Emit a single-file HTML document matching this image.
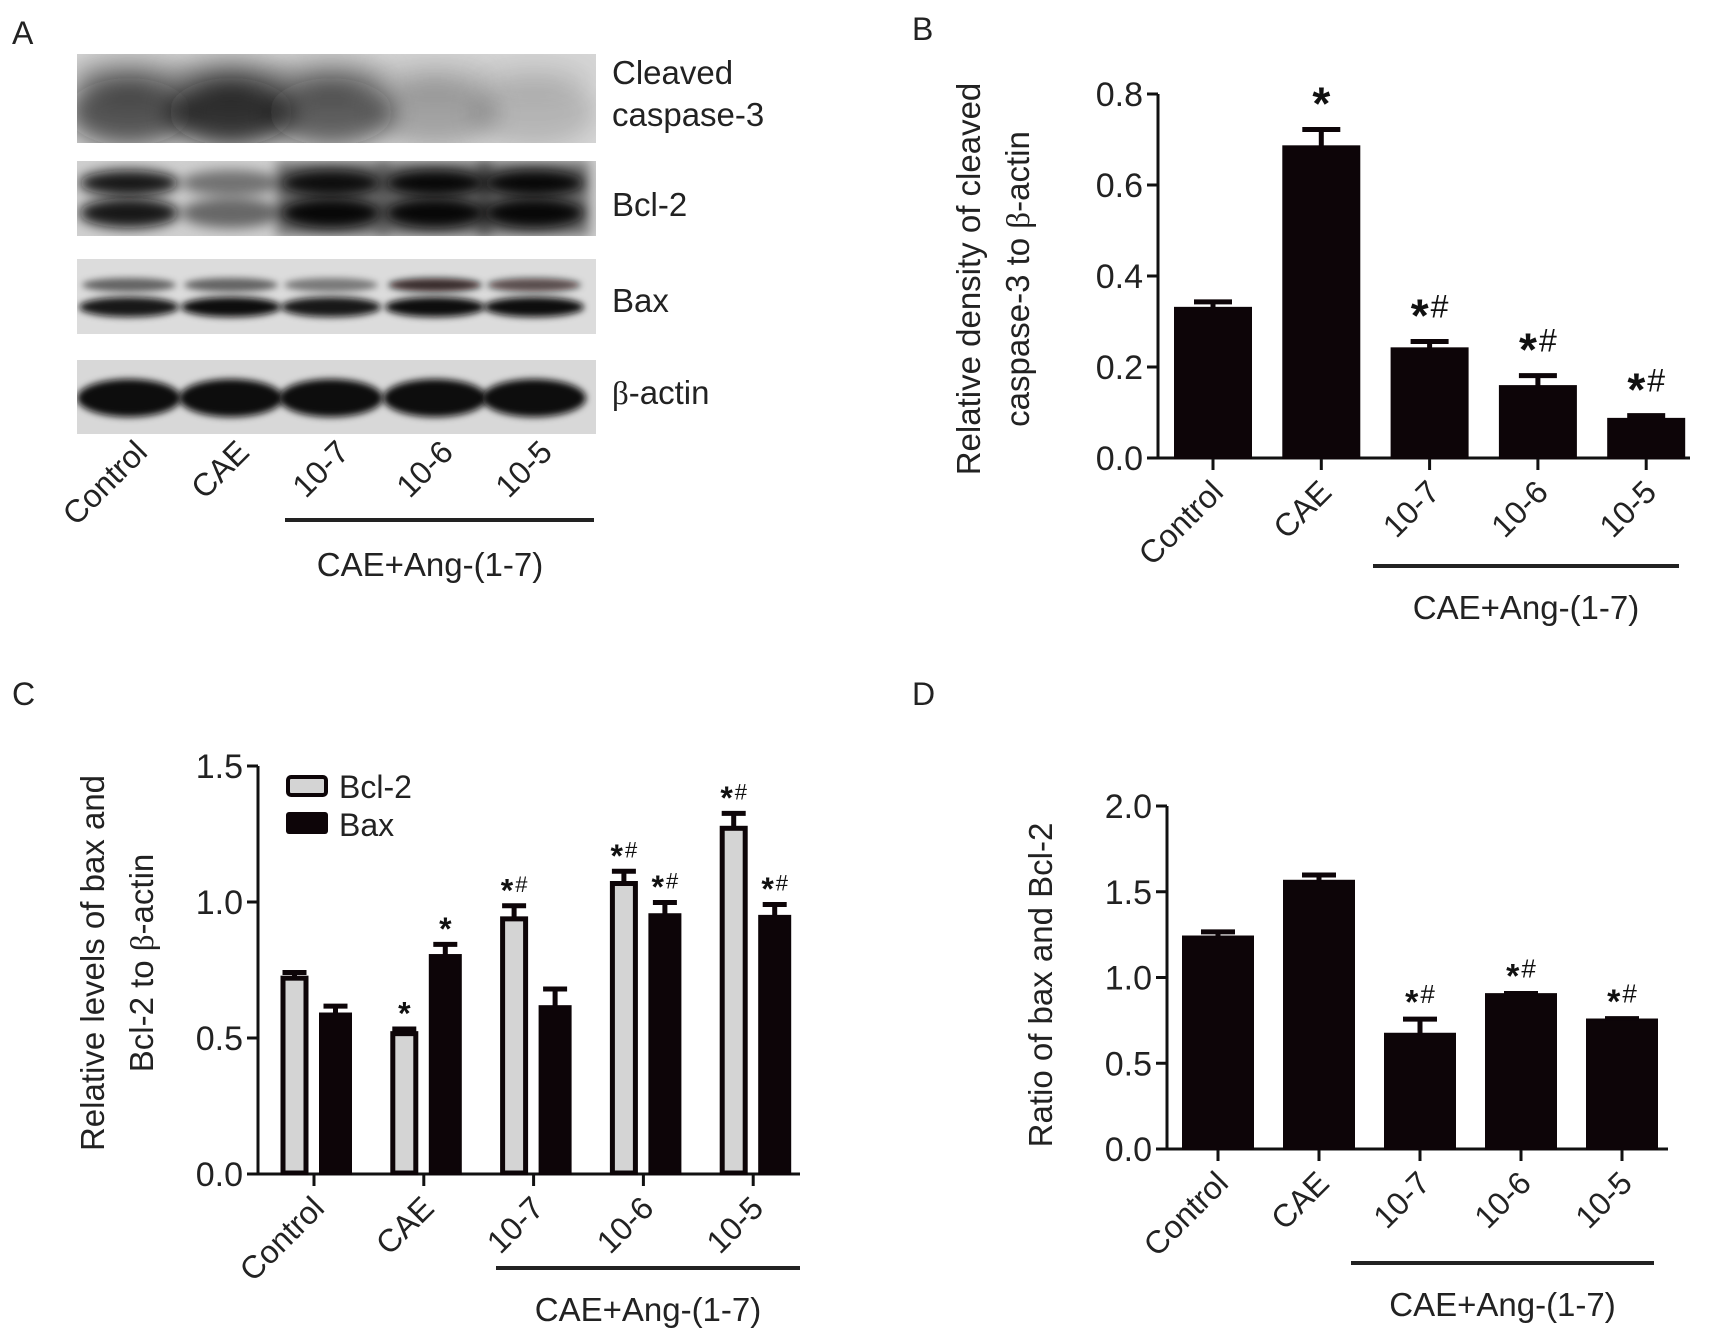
<!DOCTYPE html>
<html><head><meta charset="utf-8"><style>
html,body{margin:0;padding:0;background:#fff;}
svg{display:block;font-family:"Liberation Sans",Arial,sans-serif;}
</style></head><body>
<svg id="fig" width="1715" height="1341" viewBox="0 0 1715 1341" xmlns="http://www.w3.org/2000/svg">
<defs>
<filter id="blur6" x="-30%" y="-80%" width="160%" height="260%"><feGaussianBlur stdDeviation="6"/></filter>
<filter id="blur12" x="-30%" y="-80%" width="160%" height="260%"><feGaussianBlur stdDeviation="12"/></filter>
<filter id="blur3" x="-30%" y="-80%" width="160%" height="260%"><feGaussianBlur stdDeviation="3.5"/></filter>
<clipPath id="cp1"><rect x="77" y="54" width="519" height="89"/></clipPath>
<clipPath id="cp2"><rect x="77" y="161" width="519" height="75"/></clipPath>
<clipPath id="cp3"><rect x="77" y="259" width="519" height="75"/></clipPath>
<clipPath id="cp4"><rect x="77" y="360" width="519" height="74"/></clipPath>
</defs>
<g id="panelA"></g>
<g id="panelB"></g>
<g id="panelC"></g>
<g id="panelD"></g>
</svg>
<script>
// ---- data ----
const groups = ["Control","CAE","10-7","10-6","10-5"];
const groupLabel = "CAE+Ang-(1-7)";
// Panel B
const bValues = [0.330, 0.685, 0.241, 0.158, 0.086];
const bErrors = [0.013, 0.037, 0.015, 0.023, 0.007];
const bMarks = ["", "*", "*#", "*#", "*#"];
const bTicks = [0.0, 0.2, 0.4, 0.6, 0.8];
// Panel C
const cBcl2 = [0.72, 0.516, 0.938, 1.068, 1.271];
const cBcl2Err = [0.021, 0.017, 0.048, 0.045, 0.055];
const cBax = [0.59, 0.805, 0.617, 0.955, 0.949];
const cBaxErr = [0.027, 0.039, 0.063, 0.043, 0.042];
const cBcl2Marks = ["", "*", "*#", "*#", "*#"];
const cBaxMarks = ["", "*", "", "*#", "*#"];
const cTicks = [0.0, 0.5, 1.0, 1.5];
// Panel D
const dValues = [1.239, 1.564, 0.672, 0.903, 0.755];
const dErrors = [0.027, 0.034, 0.085, 0.004, 0.005];
const dMarks = ["", "", "*#", "*#", "*#"];
const dTicks = [0.0, 0.5, 1.0, 1.5, 2.0];
// Panel A band intensities (0..1)
const caspBand = [0.78, 0.97, 0.72, 0.28, 0.18];
const bcl2Upper = [0.95, 0.45, 0.95, 1.0, 1.0];
const bcl2Lower = [0.95, 0.5, 1.0, 1.0, 1.0];
const baxUpper = [0.55, 0.55, 0.45, 0.8, 0.65];
const baxLower = [0.95, 1.0, 0.95, 1.0, 1.0];
const actinBand = [1.0, 1.0, 1.0, 1.0, 1.0];

const NS = "http://www.w3.org/2000/svg";
function mk(parent, tag, attrs, text){
  const e = document.createElementNS(NS, tag);
  for (const k in attrs) e.setAttribute(k, attrs[k]);
  if (text !== undefined) e.textContent = text;
  parent.appendChild(e);
  return e;
}
function scaleY(y0, y1, vmax){ return v => y0 - (y0 - y1) * v / vmax; }

function axes(g, o){
  const ax = mk(g,'line',{x1:o.ax,y1:o.yTop,x2:o.ax,y2:o.y0,stroke:'#111','stroke-width':3});
  
  
  const bx = mk(g,'line',{x1:o.ax-1,y1:o.y0,x2:o.axEnd,y2:o.y0,stroke:'#111','stroke-width':3});
  
  
  o.ticks.forEach(t=>{
    const y=o.sy(t);
    const tl = mk(g,'line',{x1:o.ax-11,y1:y,x2:o.ax,y2:y,stroke:'#111','stroke-width':3});
    
    
    const tx = mk(g,'text',{x:o.ax-15,y:y+12,'text-anchor':'end','font-size':34,fill:'#222'}, t.toFixed(1));
    
    
  });
  o.centers.forEach((cx,i)=>{
    const tk = mk(g,'line',{x1:cx,y1:o.y0,x2:cx,y2:o.y0+12,stroke:'#111','stroke-width':3});
    
    
    const lb = mk(g,'text',{transform:`translate(${cx+12},${o.y0+36}) rotate(-45)`,'text-anchor':'end','font-size':32,fill:'#222'}, groups[i]);
    
    
  });
  const gl = mk(g,'line',{x1:o.gx1,y1:o.gy,x2:o.gx2,y2:o.gy,stroke:'#222','stroke-width':4});
  
  
  const gt = mk(g,'text',{x:(o.gx1+o.gx2)/2,y:o.gy+53,'text-anchor':'middle','font-size':33,fill:'#222'}, groupLabel);
  
  
  const yt = mk(g,'text',{transform:`translate(${o.tx},${o.ty}) rotate(-90)`,'text-anchor':'middle','font-size':33,fill:'#222'});
  
  
  o.title.forEach((line,i)=>{
    const ts = mk(yt,'tspan',{x:0,dy:i===0?(o.title.length>1?-12:11):49});
    const parts = line.split('β');
    parts.forEach((p,j)=>{
      if(j>0){ mk(ts,'tspan',{'font-family':'Liberation Serif, serif'},'β'); }
      mk(ts,'tspan',{},p);
    });
  });
}

function bar(g, x, w, top, y0, fill, name){
  const r = mk(g,'rect',{x:x,y:top,width:w,height:y0-top,fill:fill,stroke:'#0d0508','stroke-width':fill==='#0d0508'?2:5});
  
  
  return r;
}
function errbar(g, cx, top, etop, cap, name){
  const l = mk(g,'path',{d:`M${cx},${top} V${etop} M${cx-cap/2},${etop} H${cx+cap/2}`,stroke:'#0d0508','stroke-width':5,fill:'none'});
  
  
}
function mark(g, cx, y, m, big, small){
  if(!m) return;
  const t = mk(g,'text',{x:cx,y:y,'text-anchor':'middle',fill:'#111'});
  
  
  mk(t,'tspan',{'font-size':big,'font-weight':'bold',dy:big*0.3},'*');
  if(m.length>1) mk(t,'tspan',{'font-size':small,dx:2,dy:-big*0.3},'#');
}

// ---- Panel A ----
(function(){
  const g = document.getElementById('panelA');
  const L = mk(g,'text',{x:12,y:44,'font-size':32,fill:'#222'},'A');
  
  
  const lanes=[129,231,331,435,534];
  const rows=[
    {y:54,h:89,bg:'#d6d6d6',cp:'cp1',name:'cleaved-caspase-3-blot'},
    {y:161,h:75,bg:'#cfcfcf',cp:'cp2',name:'bcl-2-blot'},
    {y:259,h:75,bg:'#dcdcdc',cp:'cp3',name:'bax-blot'},
    {y:360,h:74,bg:'#d8d8d8',cp:'cp4',name:'beta-actin-blot'}
  ];
  rows.forEach((r,ri)=>{
    const rg = mk(g,'g',{'clip-path':`url(#${r.cp})`});
    
    
    mk(rg,'rect',{x:77,y:r.y,width:519,height:r.h,fill:r.bg});
    lanes.forEach((cx,i)=>{
      if(ri===0){
        const v=caspBand[i];
        mk(rg,'ellipse',{cx:cx,cy:r.y+58,rx:62,ry:34,fill:`rgba(12,12,12,${v*0.85})`,filter:'url(#blur12)'});
        mk(rg,'ellipse',{cx:cx,cy:r.y+25,rx:58,ry:22,fill:`rgba(12,12,12,${v*0.35})`,filter:'url(#blur12)'});
      } else if(ri===1){
        mk(rg,'ellipse',{cx:cx,cy:r.y+22,rx:50,ry:13,fill:`rgba(10,8,8,${bcl2Upper[i]})`,filter:'url(#blur6)'});
        mk(rg,'ellipse',{cx:cx,cy:r.y+52,rx:50,ry:15,fill:`rgba(10,8,8,${bcl2Lower[i]})`,filter:'url(#blur6)'});
        if(i>=2) mk(rg,'rect',{x:cx-55,y:r.y,width:110,height:r.h,fill:'rgba(10,8,8,0.45)',filter:'url(#blur6)'});
      } else if(ri===2){
        mk(rg,'ellipse',{cx:cx,cy:r.y+26,rx:47,ry:7,fill:`rgba(10,8,8,${baxUpper[i]})`,filter:'url(#blur3)'});
        mk(rg,'ellipse',{cx:cx,cy:r.y+48,rx:50,ry:10,fill:`rgba(10,8,8,${baxLower[i]})`,filter:'url(#blur3)'});
      } else {
        mk(rg,'ellipse',{cx:cx,cy:r.y+38,rx:52,ry:19,fill:`rgba(10,8,8,${actinBand[i]})`,filter:'url(#blur3)'});
      }
    });
  });
  const labs=[["Cleaved",84],["caspase-3",126],["Bcl-2",216],["Bax",312],["β-actin",404]];
  labs.forEach(l=>{
    const t=mk(g,'text',{x:612,y:l[1],'font-size':33,fill:'#222'});
    
    
    if(l[0].startsWith('β')){ mk(t,'tspan',{'font-family':'Liberation Serif, serif'},'β'); mk(t,'tspan',{},'-actin'); }
    else t.textContent=l[0];
  });
  lanes.forEach((cx,i)=>{
    const lb=mk(g,'text',{transform:`translate(${cx+20},${454}) rotate(-45)`,'text-anchor':'end','font-size':32,fill:'#222'},groups[i]);
    
    
  });
  const gl=mk(g,'line',{x1:285,y1:520,x2:594,y2:520,stroke:'#222','stroke-width':4});
  
  
  const gt=mk(g,'text',{x:430,y:576,'text-anchor':'middle','font-size':33,fill:'#222'},groupLabel);
  
  
})();

// ---- Panel B ----
(function(){
  const g=document.getElementById('panelB');
  const L=mk(g,'text',{x:912,y:40,'font-size':32,fill:'#222'},'B');
  
  
  const y0=458, sy=scaleY(458,94,0.8);
  const centers=groups.map((_,i)=>1213+i*108.3);
  axes(g,{ax:1158,yTop:94,y0:y0,axEnd:1690,ticks:bTicks,sy:sy,centers:centers,gx1:1373,gx2:1679,gy:566,tx:992,ty:279,
    title:["Relative density of cleaved","caspase-3 to β-actin"]});
  bValues.forEach((v,i)=>{
    const cx=centers[i], top=sy(v), et=sy(v+bErrors[i]);
    errbar(g,cx,top,et,38,'error-bar-b-'+i);
    bar(g,cx-38,76,top,y0,'#0d0508','bar-b-'+groups[i]);
    mark(g,cx,et-24,bMarks[i],46,32);
  });
})();

// ---- Panel C ----
(function(){
  const g=document.getElementById('panelC');
  const L=mk(g,'text',{x:12,y:705,'font-size':32,fill:'#222'},'C');
  
  
  const y0=1174, sy=scaleY(1174,766,1.5);
  const centers=groups.map((_,i)=>314+i*109.8);
  axes(g,{ax:258,yTop:766,y0:y0,axEnd:800,ticks:cTicks,sy:sy,centers:centers,gx1:496,gx2:800,gy:1268,tx:116,ty:963,
    title:["Relative levels of bax and","Bcl-2 to β-actin"]});
  cBcl2.forEach((v,i)=>{
    const cx=centers[i]-19.5, top=sy(v), et=sy(v+cBcl2Err[i]);
    errbar(g,cx,top,et,24,'error-bar-bcl2-'+i);
    bar(g,cx-11.5,23,top,y0-1,'#d4d4d4','bar-bcl2-'+groups[i]);
    mark(g,cx,et-14,cBcl2Marks[i],32,22);
  });
  cBax.forEach((v,i)=>{
    const cx=centers[i]+21.5, top=sy(v), et=sy(v+cBaxErr[i]);
    errbar(g,cx,top,et,24,'error-bar-bax-'+i);
    bar(g,cx-15.5,31,top,y0,'#0d0508','bar-bax-'+groups[i]);
    mark(g,cx,et-14,cBaxMarks[i],32,22);
  });
  const lb1=mk(g,'rect',{x:288,y:777,width:38,height:18,fill:'#d4d4d4',stroke:'#0d0508','stroke-width':4,rx:3});
  
  
  const lt1=mk(g,'text',{x:339,y:798,'font-size':32,fill:'#222'},'Bcl-2');
  
  
  const lb2=mk(g,'rect',{x:286,y:812,width:42,height:22,fill:'#0d0508',rx:3});
  
  
  const lt2=mk(g,'text',{x:339,y:836,'font-size':32,fill:'#222'},'Bax');
  
  
})();

// ---- Panel D ----
(function(){
  const g=document.getElementById('panelD');
  const L=mk(g,'text',{x:912,y:705,'font-size':32,fill:'#222'},'D');
  
  
  const y0=1149, sy=scaleY(1149,806,2.0);
  const centers=groups.map((_,i)=>1218+i*101);
  axes(g,{ax:1167,yTop:806,y0:y0,axEnd:1668,ticks:dTicks,sy:sy,centers:centers,gx1:1351,gx2:1654,gy:1263,tx:1041,ty:985,
    title:["Ratio of bax and Bcl-2"]});
  dValues.forEach((v,i)=>{
    const cx=centers[i], top=sy(v), et=sy(v+dErrors[i]);
    errbar(g,cx,top,et,34,'error-bar-d-'+i);
    bar(g,cx-35,70,top,y0,'#0d0508','bar-d-'+groups[i]);
    mark(g,cx,et-16,dMarks[i],34,26);
  });
})();
</script>
</body></html>
